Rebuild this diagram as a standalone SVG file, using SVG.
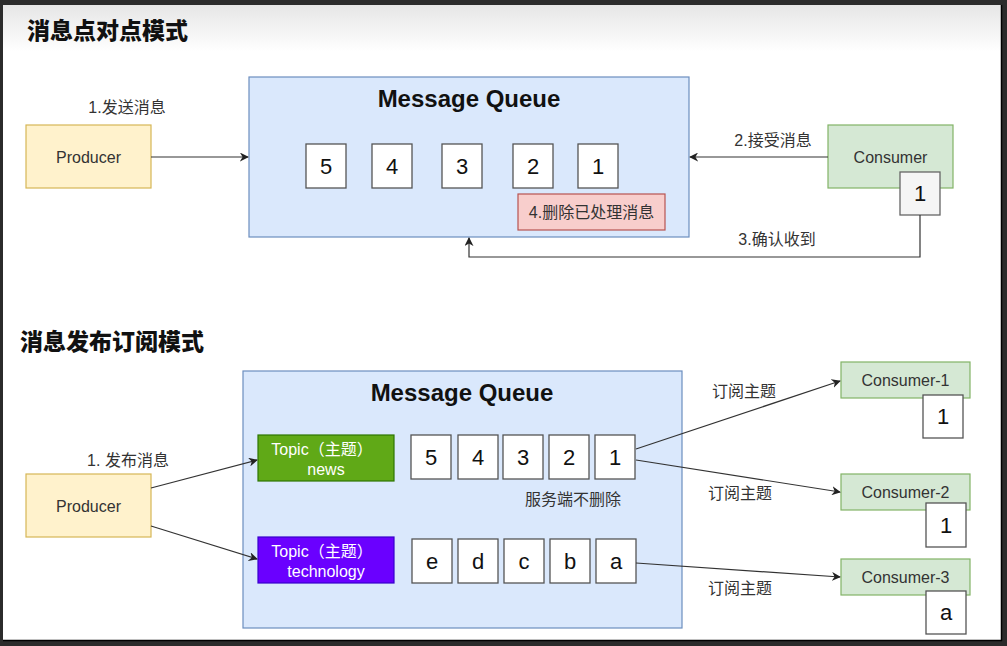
<svg xmlns="http://www.w3.org/2000/svg" width="1007" height="646" viewBox="0 0 1007 646">
<defs>
<linearGradient id="topfade" x1="0" y1="0" x2="0" y2="1">
<stop offset="0" stop-color="#e6e6e6"/>
<stop offset="1" stop-color="#ffffff"/>
</linearGradient>
<marker id="arr" viewBox="0 0 10 10" refX="9" refY="5" markerWidth="9" markerHeight="9" markerUnits="userSpaceOnUse" orient="auto">
<path d="M0,0 L10,5 L0,10 L3,5 z" fill="#222"/>
</marker>
<style>
.title{font-family:"Noto Sans CJK SC","Liberation Sans",sans-serif;font-weight:900;font-size:23px;fill:#111;}
.mq{fill:#dae8fc;stroke:#6c8ebf;stroke-width:1.2;}
.mqt{font-family:"Liberation Sans",sans-serif;font-weight:bold;font-size:24px;fill:#111;}
.prod{fill:#fff2cc;stroke:#d6b656;stroke-width:1.2;}
.cons{fill:#d5e8d4;stroke:#82b366;stroke-width:1.2;}
.cell{fill:#ffffff;stroke:#555;stroke-width:1.3;}
.num{font-family:"Liberation Sans",sans-serif;font-size:22px;fill:#111;}
.lbl{font-family:"Liberation Sans","Noto Sans CJK SC",sans-serif;font-size:16px;fill:#333;}
.wt{font-family:"Liberation Sans","Noto Sans CJK SC",sans-serif;font-size:16px;fill:#ffffff;}
.edge{fill:none;stroke:#333;stroke-width:1.2;marker-end:url(#arr);}
</style>
</defs>
<rect x="0" y="0" width="1007" height="646" fill="#2b2b2b"/>
<rect x="3" y="5" width="998" height="635" fill="#ffffff"/>
<rect x="3" y="5" width="998" height="47" fill="url(#topfade)"/>
<line x1="1001.5" y1="5" x2="1001.5" y2="641" stroke="#000" stroke-width="1.5"/>
<line x1="3" y1="640.5" x2="1002" y2="640.5" stroke="#000" stroke-width="1.5"/>

<text class="title" x="27" y="39">消息点对点模式</text>
<text class="title" x="20" y="350">消息发布订阅模式</text>

<g id="mq1">
<rect class="mq" x="249" y="77" width="440" height="160"/>
<text class="mqt" x="469" y="98" text-anchor="middle" dominant-baseline="central">Message Queue</text>
</g>
<g id="q1-5"><rect class="cell" x="306" y="144" width="40" height="44"/><text class="num" x="326" y="166" text-anchor="middle" dominant-baseline="central">5</text></g>
<g id="q1-4"><rect class="cell" x="372" y="144" width="40" height="44"/><text class="num" x="392" y="166" text-anchor="middle" dominant-baseline="central">4</text></g>
<g id="q1-3"><rect class="cell" x="442" y="144" width="40" height="44"/><text class="num" x="462" y="166" text-anchor="middle" dominant-baseline="central">3</text></g>
<g id="q1-2"><rect class="cell" x="513" y="144" width="40" height="44"/><text class="num" x="533" y="166" text-anchor="middle" dominant-baseline="central">2</text></g>
<g id="q1-1"><rect class="cell" x="578" y="144" width="40" height="44"/><text class="num" x="598" y="166" text-anchor="middle" dominant-baseline="central">1</text></g>
<g id="delete-note">
<rect x="518" y="194" width="147" height="36" fill="#f8cecc" stroke="#b85450" stroke-width="1.2"/>
<text class="lbl" x="591.5" y="212" text-anchor="middle" dominant-baseline="central">4.删除已处理消息</text>
</g>
<g id="producer1">
<rect class="prod" x="26" y="125" width="125" height="63"/>
<text class="lbl" x="88.5" y="157" text-anchor="middle" dominant-baseline="central">Producer</text>
</g>
<g id="consumer1">
<rect class="cons" x="828" y="125" width="125" height="63"/>
<text class="lbl" x="890.5" y="157" text-anchor="middle" dominant-baseline="central">Consumer</text>
</g>
<g id="consumer1-msg">
<rect x="900" y="172" width="40" height="43" fill="#f5f5f5" stroke="#666" stroke-width="1.3"/>
<text class="num" x="920" y="193" text-anchor="middle" dominant-baseline="central" fill="#333">1</text>
</g>

<g id="mq2">
<rect class="mq" x="243" y="371" width="439" height="257"/>
<text class="mqt" x="462" y="392" text-anchor="middle" dominant-baseline="central">Message Queue</text>
</g>
<g id="topic-news">
<rect x="258" y="435" width="136" height="46" fill="#60a917" stroke="#2d7600" stroke-width="1.2"/>
<text class="wt" x="322" y="449" text-anchor="middle" dominant-baseline="central">Topic（主题）</text>
<text class="wt" x="326" y="469" text-anchor="middle" dominant-baseline="central">news</text>
</g>
<g id="topic-tech">
<rect x="258" y="537" width="136" height="46" fill="#6a00ff" stroke="#3700cc" stroke-width="1.2"/>
<text class="wt" x="322" y="551" text-anchor="middle" dominant-baseline="central">Topic（主题）</text>
<text class="wt" x="326" y="571" text-anchor="middle" dominant-baseline="central">technology</text>
</g>
<g id="n-5"><rect class="cell" x="411" y="435" width="40" height="44"/><text class="num" x="431" y="457" text-anchor="middle" dominant-baseline="central">5</text></g>
<g id="n-4"><rect class="cell" x="458" y="435" width="40" height="44"/><text class="num" x="478" y="457" text-anchor="middle" dominant-baseline="central">4</text></g>
<g id="n-3"><rect class="cell" x="503" y="435" width="40" height="44"/><text class="num" x="523" y="457" text-anchor="middle" dominant-baseline="central">3</text></g>
<g id="n-2"><rect class="cell" x="549" y="435" width="40" height="44"/><text class="num" x="569" y="457" text-anchor="middle" dominant-baseline="central">2</text></g>
<g id="n-1"><rect class="cell" x="595" y="435" width="40" height="44"/><text class="num" x="615" y="457" text-anchor="middle" dominant-baseline="central">1</text></g>
<text class="lbl" x="573" y="499" text-anchor="middle" dominant-baseline="central">服务端不删除</text>
<g id="t-e"><rect class="cell" x="412" y="539" width="40" height="44"/><text class="num" x="432" y="561" text-anchor="middle" dominant-baseline="central">e</text></g>
<g id="t-d"><rect class="cell" x="458" y="539" width="40" height="44"/><text class="num" x="478" y="561" text-anchor="middle" dominant-baseline="central">d</text></g>
<g id="t-c"><rect class="cell" x="504" y="539" width="40" height="44"/><text class="num" x="524" y="561" text-anchor="middle" dominant-baseline="central">c</text></g>
<g id="t-b"><rect class="cell" x="550" y="539" width="40" height="44"/><text class="num" x="570" y="561" text-anchor="middle" dominant-baseline="central">b</text></g>
<g id="t-a"><rect class="cell" x="596" y="539" width="40" height="44"/><text class="num" x="616" y="561" text-anchor="middle" dominant-baseline="central">a</text></g>

<g id="producer2">
<rect class="prod" x="26" y="474" width="125" height="63"/>
<text class="lbl" x="88.5" y="506" text-anchor="middle" dominant-baseline="central">Producer</text>
</g>
<g id="consumer-1">
<rect class="cons" x="841" y="362" width="129" height="36"/>
<text class="lbl" x="905.5" y="380" text-anchor="middle" dominant-baseline="central">Consumer-1</text>
</g>
<g id="consumer-1-msg"><rect class="cell" x="923" y="395" width="40" height="43"/><text class="num" x="943" y="416" text-anchor="middle" dominant-baseline="central">1</text></g>
<g id="consumer-2">
<rect class="cons" x="841" y="474" width="129" height="36"/>
<text class="lbl" x="905.5" y="492" text-anchor="middle" dominant-baseline="central">Consumer-2</text>
</g>
<g id="consumer-2-msg"><rect class="cell" x="926" y="503" width="40" height="44"/><text class="num" x="946" y="525" text-anchor="middle" dominant-baseline="central">1</text></g>
<g id="consumer-3">
<rect class="cons" x="841" y="559" width="129" height="36"/>
<text class="lbl" x="905.5" y="577" text-anchor="middle" dominant-baseline="central">Consumer-3</text>
</g>
<g id="consumer-3-msg"><rect class="cell" x="926" y="591" width="40" height="43"/><text class="num" x="946" y="612" text-anchor="middle" dominant-baseline="central">a</text></g>

<g id="connectors">
<line class="edge" x1="151" y1="157" x2="248" y2="157"/>
<line class="edge" x1="828" y1="157" x2="690" y2="157"/>
<polyline class="edge" points="920,215 920,257 469,257 469,238"/>
<line class="edge" x1="151" y1="488" x2="257" y2="460"/>
<line class="edge" x1="151" y1="526" x2="257" y2="559"/>
<line class="edge" x1="636" y1="449" x2="840" y2="381"/>
<line class="edge" x1="636" y1="460" x2="840" y2="492"/>
<line class="edge" x1="636" y1="563" x2="840" y2="577"/>
</g>

<g id="labels">
<text class="lbl" x="127" y="107" text-anchor="middle" dominant-baseline="central">1.发送消息</text>
<text class="lbl" x="773" y="140" text-anchor="middle" dominant-baseline="central">2.接受消息</text>
<text class="lbl" x="777" y="239" text-anchor="middle" dominant-baseline="central">3.确认收到</text>
<text class="lbl" x="128" y="460" text-anchor="middle" dominant-baseline="central">1. 发布消息</text>
<text class="lbl" x="744" y="391" text-anchor="middle" dominant-baseline="central">订阅主题</text>
<text class="lbl" x="740" y="493" text-anchor="middle" dominant-baseline="central">订阅主题</text>
<text class="lbl" x="740" y="588" text-anchor="middle" dominant-baseline="central">订阅主题</text>
</g>
</svg>
